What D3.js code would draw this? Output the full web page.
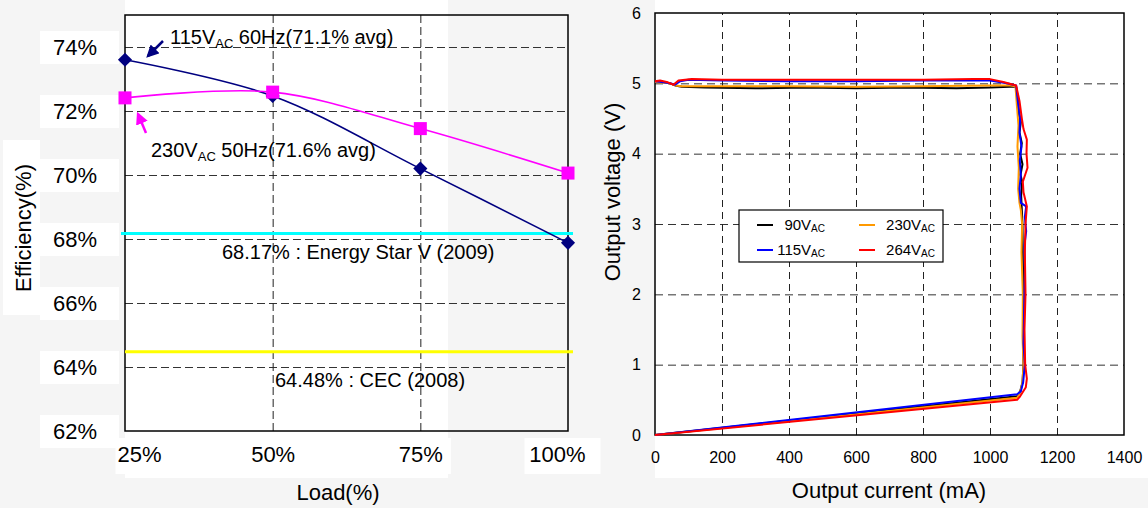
<!DOCTYPE html>
<html>
<head>
<meta charset="utf-8">
<script src="https://cdnjs.cloudflare.com/ajax/libs/d3/7.8.5/d3.min.js"></script>
<style>
  body { margin: 0; background: #fff; }
  svg { display: block; font-family: Arial, "Liberation Sans", sans-serif; }
</style>
</head>
<body>
<svg id="chart" width="1148" height="508"></svg>
<script>
// ---- efficiency vs load ----
var load_levels = [25, 50, 75, 100];
var load_labels = ["25%", "50%", "75%", "100%"];
var eff_115 = [73.6, 72.47, 70.2, 67.88];
var eff_230 = [72.41, 72.59, 71.45, 70.06];
var eff_ticks = [62, 64, 66, 68, 70, 72, 74];
var energy_star = 68.17;
var cec = 64.48;

// ---- output characteristic, [mA, V] ----
var curve_90 = [[0,5.03],[20,5.02],[45,5.0],[60,4.97],[80,4.95],[150,4.94],[300,4.93],[450,4.94],[600,4.93],[750,4.94],[900,4.93],[1000,4.94],[1060,4.95],[1078,4.95],[1083,4.8],[1085,4.6],[1092,4.45],[1088,4.3],[1095,4.15],[1090,4.0],[1097,3.85],[1091,3.7],[1096,3.6],[1093,3.4],[1095,3.2],[1097,3.0],[1098,2.5],[1100,2.0],[1099,1.5],[1100,1.0],[1097,0.75],[1090,0.62],[1081,0.55],[0,0]];
var curve_115 = [[0,5.03],[20,5.02],[45,5.0],[60,4.98],[75,5.03],[100,5.05],[200,5.04],[400,5.03],[600,5.03],[800,5.04],[950,5.04],[1000,5.04],[1050,5.0],[1078,4.97],[1083,4.75],[1090,4.5],[1088,4.3],[1094,4.1],[1089,3.9],[1092,3.7],[1088,3.5],[1092,3.3],[1108,3.25],[1104,3.1],[1108,2.9],[1103,2.7],[1104,2.3],[1102,1.8],[1100,1.3],[1104,1.0],[1099,0.75],[1092,0.62],[1081,0.58],[0,0]];
var curve_230 = [[0,5.02],[20,5.01],[45,5.0],[60,4.97],[80,4.96],[200,4.96],[400,4.96],[600,4.95],[800,4.96],[1000,4.97],[1060,4.97],[1076,4.96],[1080,4.7],[1085,4.4],[1082,4.1],[1086,3.8],[1084,3.5],[1088,3.3],[1092,3.2],[1096,3.0],[1094,2.6],[1098,2.0],[1097,1.4],[1100,1.0],[1097,0.75],[1090,0.6],[1081,0.53],[0,0]];
var curve_264 = [[0,5.03],[15,5.04],[35,5.02],[55,4.98],[70,5.04],[110,5.06],[200,5.05],[400,5.05],[600,5.05],[800,5.05],[950,5.06],[1000,5.06],[1040,5.02],[1078,4.97],[1088,4.75],[1095,4.5],[1100,4.35],[1110,4.2],[1109,4.0],[1112,3.8],[1098,3.6],[1100,3.45],[1110,3.25],[1106,3.0],[1104,2.6],[1106,2.0],[1103,1.5],[1105,1.0],[1110,0.8],[1107,0.68],[1090,0.55],[1081,0.5],[0,0]];
var current_ticks = [0, 200, 400, 600, 800, 1000, 1200, 1400];
var voltage_ticks = [0, 1, 2, 3, 4, 5, 6];
var input_names = ["90", "115", "230", "264"];
var input_colors = ["#000000", "#0000ff", "#ff9900", "#ff0000"];


var svg = d3.select("#chart");

// faint background watermark
var bg = svg.append("g").attr("fill", "#f5f5f5");
bg.append("rect").attr("x", 0).attr("y", 0).attr("width", 125).attr("height", 508);
bg.append("rect").attr("x", 448).attr("y", 0).attr("width", 207).attr("height", 508);
bg.append("rect").attr("x", 0).attr("y", 478).attr("width", 1148).attr("height", 30);
bg.append("rect").attr("x", 3).attr("y", 140).attr("width", 37).attr("height", 175).attr("fill", "#fff");

var defs = svg.append("defs");
function arrowMarker(id, color) {
  defs.append("marker")
      .attr("id", id)
      .attr("viewBox", "0 0 10 10")
      .attr("refX", 8).attr("refY", 5)
      .attr("markerWidth", 5).attr("markerHeight", 5)
      .attr("orient", "auto")
    .append("path")
      .attr("d", "M0,0 L10,5 L0,10 z")
      .attr("fill", color);
}
arrowMarker("arrowNavy", "#000080");
arrowMarker("arrowMag", "#ff00ff");


// ================= LEFT: efficiency =================
var xL = d3.scaleLinear().domain([25, 100]).range([125, 568]);
var yL = d3.scaleLinear().domain([62, 75]).range([431, 15]);

var left = svg.append("g");

left.append("rect")
    .attr("x", xL(25)).attr("y", yL(75))
    .attr("width", 448 - xL(25)).attr("height", yL(62) - yL(75))
    .attr("fill", "#fff");

// white boxes behind tick labels
left.selectAll(".ybox")
    .data(eff_ticks)
  .enter().append("rect")
    .attr("x", 40).attr("width", 79)
    .attr("y", function(d) { return yL(d) - 16; })
    .attr("height", 33)
    .attr("fill", "#fff");

// grid
left.append("g")
    .attr("transform", "translate(" + xL(25) + ",0)")
    .call(d3.axisLeft(yL).tickValues(eff_ticks.slice(1)).tickSize(-(xL(100) - xL(25))).tickFormat(""))
    .call(function(g) { g.select(".domain").remove(); })
    .selectAll("line")
    .attr("stroke", "#333").attr("stroke-dasharray", "8,4");

left.append("g")
    .attr("transform", "translate(0," + yL(62) + ")")
    .call(d3.axisBottom(xL).tickValues([50, 75]).tickSize(-(yL(62) - yL(75))).tickFormat(""))
    .call(function(g) { g.select(".domain").remove(); })
    .selectAll("line")
    .attr("stroke", "#222").attr("stroke-dasharray", "8,4");

left.append("rect")
    .attr("x", xL(25)).attr("y", yL(75))
    .attr("width", xL(100) - xL(25)).attr("height", yL(62) - yL(75))
    .attr("fill", "none").attr("stroke", "#000").attr("stroke-width", 1.5);

// limit lines
left.append("line")
    .attr("x1", xL(25) - 4).attr("x2", xL(100) + 5)
    .attr("y1", yL(energy_star)).attr("y2", yL(energy_star))
    .attr("stroke", "#00ffff").attr("stroke-width", 3);
left.append("line")
    .attr("x1", xL(25)).attr("x2", xL(100) + 5)
    .attr("y1", yL(cec)).attr("y2", yL(cec))
    .attr("stroke", "#ffff00").attr("stroke-width", 3);

// axis labels
left.append("g")
    .attr("transform", "translate(" + xL(25) + ",0)")
    .call(d3.axisLeft(yL).tickValues(eff_ticks).tickSize(0).tickPadding(28).tickFormat(function(d) { return d + "%"; }))
    .call(function(g) { g.select(".domain").remove(); })
    .selectAll("text")
    .attr("font-size", 22).attr("font-family", "Arial, 'Liberation Sans', sans-serif").attr("fill", "#000");

var xlab = left.append("g")
    .attr("transform", "translate(0,446)")
    .call(d3.axisBottom(xL).tickValues(load_levels).tickSize(0).tickPadding(0).tickFormat(function(d, i) { return load_labels[i]; }))
    .call(function(g) { g.select(".domain").remove(); });
xlab.selectAll(".tick").insert("rect", "text")
    .attr("x", function(d, i) { return i == 0 ? -10 : (i == 3 ? -44 : -30); })
    .attr("y", -8).attr("width", function(d, i) { return i == 3 ? 76 : 60; }).attr("height", 36)
    .attr("fill", "#fff");
xlab.selectAll("text")
    .attr("font-size", 22).attr("font-family", "Arial, 'Liberation Sans', sans-serif").attr("fill", "#000")
    .attr("dx", function(d, i) { return i == 0 ? 14 : (i == 3 ? -11 : 0); });

left.append("text")
    .attr("x", 338).attr("y", 500)
    .attr("text-anchor", "middle").attr("font-size", 22)
    .text("Load(%)");
left.append("text")
    .attr("transform", "translate(31,228) rotate(-90)")
    .attr("text-anchor", "middle").attr("font-size", 22)
    .text("Efficiency(%)");

// series
var lineL = d3.line()
    .x(function(d, i) { return xL(load_levels[i]); })
    .y(function(d) { return yL(d); })
    .curve(d3.curveCatmullRom);

left.append("path")
    .datum(eff_115)
    .attr("d", lineL)
    .attr("fill", "none").attr("stroke", "#000080").attr("stroke-width", 1.6);
left.selectAll(".dia")
    .data(eff_115)
  .enter().append("path")
    .attr("d", d3.symbol().type(d3.symbolSquare).size(100))
    .attr("transform", function(d, i) { return "translate(" + xL(load_levels[i]) + "," + yL(d) + ") rotate(45)"; })
    .attr("fill", "#000080");

left.append("path")
    .datum(eff_230)
    .attr("d", lineL)
    .attr("fill", "none").attr("stroke", "#ff00ff").attr("stroke-width", 1.6);
left.selectAll(".sq")
    .data(eff_230)
  .enter().append("rect")
    .attr("x", function(d, i) { return xL(load_levels[i]) - 6.5; })
    .attr("y", function(d) { return yL(d) - 6.5; })
    .attr("width", 13).attr("height", 13)
    .attr("fill", "#ff00ff");

// annotations
function subLabel(g, x, y, pre, post) {
  var t = g.append("text").attr("x", x).attr("y", y).attr("font-size", 20);
  t.append("tspan").text(pre);
  t.append("tspan").attr("font-size", 13).attr("dy", 4).text("AC");
  t.append("tspan").attr("dy", -4).text(post);
}
subLabel(left, 170, 44, "115V", " 60Hz(71.1% avg)");
subLabel(left, 151, 157, "230V", " 50Hz(71.6% avg)");

left.append("line")
    .attr("x1", 163).attr("y1", 41).attr("x2", 148).attr("y2", 56)
    .attr("stroke", "#000080").attr("stroke-width", 2.5)
    .attr("marker-end", "url(#arrowNavy)");
left.append("line")
    .attr("x1", 146).attr("y1", 133).attr("x2", 138).attr("y2", 114)
    .attr("stroke", "#ff00ff").attr("stroke-width", 2.5)
    .attr("marker-end", "url(#arrowMag)");

left.append("text")
    .attr("x", 222).attr("y", 259).attr("font-size", 20)
    .text(energy_star + "% : Energy Star V (2009)");
left.append("text")
    .attr("x", 275).attr("y", 387).attr("font-size", 20)
    .text(cec + "% : CEC (2008)");


// ================= RIGHT: output characteristic =================
var xR = d3.scaleLinear().domain([0, 1400]).range([655, 1124]);
var yR = d3.scaleLinear().domain([0, 6]).range([435, 13]);

var right = svg.append("g");

right.append("rect")
    .attr("x", xR(0)).attr("y", yR(6))
    .attr("width", xR(1400) - xR(0)).attr("height", yR(0) - yR(6))
    .attr("fill", "#fff");

right.append("g")
    .attr("transform", "translate(" + xR(0) + ",0)")
    .call(d3.axisLeft(yR).tickValues([1, 2, 3, 4, 5]).tickSize(-(xR(1400) - xR(0))).tickFormat(""))
    .call(function(g) { g.select(".domain").remove(); })
    .selectAll("line")
    .attr("stroke", "#333").attr("stroke-dasharray", "8,5");

right.append("g")
    .attr("transform", "translate(0," + yR(0) + ")")
    .call(d3.axisBottom(xR).tickValues(current_ticks.slice(1, -1)).tickSize(-(yR(0) - yR(6))).tickFormat(""))
    .call(function(g) { g.select(".domain").remove(); })
    .selectAll("line")
    .attr("stroke", "#222").attr("stroke-dasharray", "7,5");

right.append("rect")
    .attr("x", xR(0)).attr("y", yR(6))
    .attr("width", xR(1400) - xR(0)).attr("height", yR(0) - yR(6))
    .attr("fill", "none").attr("stroke", "#000").attr("stroke-width", 1.5);

right.append("g")
    .attr("transform", "translate(" + xR(0) + ",0)")
    .call(d3.axisLeft(yR).tickValues(voltage_ticks).tickSize(0).tickPadding(14).tickFormat(d3.format("d")))
    .call(function(g) { g.select(".domain").remove(); })
    .selectAll("text")
    .attr("font-size", 16).attr("font-family", "Arial, 'Liberation Sans', sans-serif").attr("fill", "#000");

right.append("g")
    .attr("transform", "translate(0," + (yR(0) + 17) + ")")
    .call(d3.axisBottom(xR).tickValues(current_ticks).tickSize(0).tickPadding(0).tickFormat(d3.format("d")))
    .call(function(g) { g.select(".domain").remove(); })
    .selectAll("text")
    .attr("font-size", 16).attr("font-family", "Arial, 'Liberation Sans', sans-serif").attr("fill", "#000");

right.append("text")
    .attr("x", 889).attr("y", 498)
    .attr("text-anchor", "middle").attr("font-size", 22)
    .text("Output current (mA)");
right.append("text")
    .attr("transform", "translate(620,192) rotate(-90)")
    .attr("text-anchor", "middle").attr("font-size", 22)
    .text("Output voltage (V)");

var lineR = d3.line()
    .x(function(d) { return xR(d[0]); })
    .y(function(d) { return yR(d[1]); });

var curves = [curve_90, curve_230, curve_115, curve_264];
var curveColors = [input_colors[0], input_colors[2], input_colors[1], input_colors[3]];
right.selectAll(".trace")
    .data(curves)
  .enter().append("path")
    .attr("d", lineR)
    .attr("fill", "none")
    .attr("stroke", function(d, i) { return curveColors[i]; })
    .attr("stroke-width", 2)
    .attr("stroke-linejoin", "round");

// legend
var lg = right.append("g").attr("transform", "translate(739,210)");
lg.append("rect")
    .attr("width", 204).attr("height", 52)
    .attr("fill", "#fff").attr("stroke", "#000").attr("stroke-width", 1.2);

var items = lg.selectAll(".item")
    .data(input_names)
  .enter().append("g")
    .attr("transform", function(d, i) {
      var col = (i == 0 || i == 1) ? 0 : 1;
      var row = (i == 0 || i == 2) ? 0 : 1;
      return "translate(" + (col * 102) + "," + (15 + row * 25) + ")";
    });
items.append("line")
    .attr("x1", 18).attr("x2", 34).attr("y1", 0).attr("y2", 0)
    .attr("stroke", function(d, i) { return input_colors[i]; })
    .attr("stroke-width", 2);
var itxt = items.append("text")
    .attr("x", function(d, i) { return i < 2 ? 86 : 94; })
    .attr("y", 5)
    .attr("text-anchor", "end")
    .attr("font-size", 15);
itxt.append("tspan").text(function(d) { return d + "V"; });
itxt.append("tspan").attr("font-size", 10).attr("dy", 2).text("AC");
</script>
</body>
</html>
